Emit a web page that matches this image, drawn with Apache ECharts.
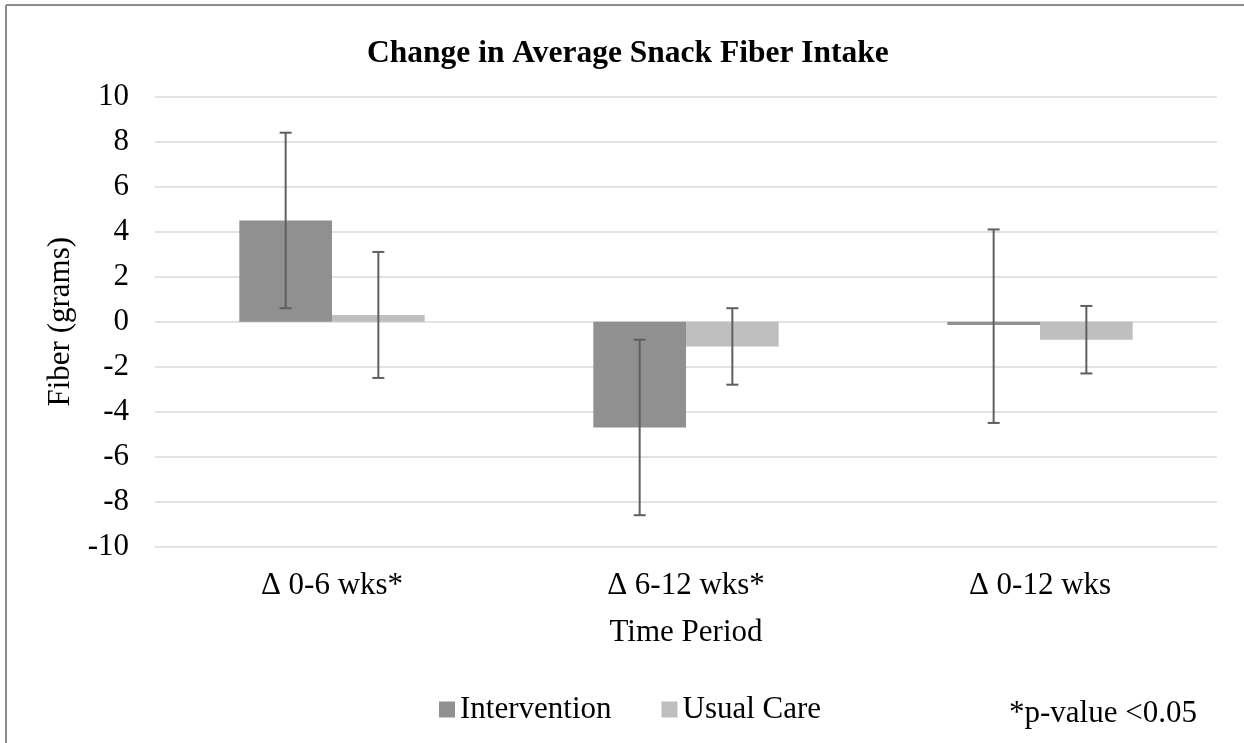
<!DOCTYPE html>
<html>
<head>
<meta charset="utf-8">
<script src="https://cdn.jsdelivr.net/npm/echarts@6/dist/echarts.min.js"></script>
<style>html,body{margin:0;padding:0;background:#fff}#c{width:1244px;height:743px}</style>
</head>
<body>
<div id="c"></div>
<script>
var categories = ['\u0394 0-6 wks*', '\u0394 6-12 wks*', '\u0394 0-12 wks'];
var interventionValues = [4.5, -4.7, -0.15];
var interventionLow = [0.6, -8.6, -4.5];
var interventionHigh = [8.4, -0.8, 4.1];
var usualCareValues = [0.3, -1.1, -0.8];
var usualCareLow = [-2.5, -2.8, -2.3];
var usualCareHigh = [3.1, 0.6, 0.7];
var seriesNames = ['Intervention', 'Usual Care'];
var yTicks = [-10, -8, -6, -4, -2, 0, 2, 4, 6, 8, 10];

var FONT = "'Liberation Serif', 'Times New Roman', serif";
var GAP = 0.4763;

function errData(low, high) {
  return categories.map(function (c, i) { return [i, low[i], high[i]]; });
}
function errRender(side) {
  return function (params, api) {
    var i = api.value(0);
    var band = api.size([1, 0])[0];
    var bw = band * (1 - GAP) / 2;
    var lo = api.coord([i, api.value(1)]);
    var hi = api.coord([i, api.value(2)]);
    var x = lo[0] + side * bw / 2;
    var cap = 6;
    var st = { stroke: '#5f5f5f', lineWidth: 2 };
    return {
      type: 'group',
      children: [
        { type: 'line', shape: { x1: x, y1: lo[1], x2: x, y2: hi[1] }, style: st },
        { type: 'line', shape: { x1: x - cap, y1: lo[1], x2: x + cap, y2: lo[1] }, style: st },
        { type: 'line', shape: { x1: x - cap, y1: hi[1], x2: x + cap, y2: hi[1] }, style: st }
      ]
    };
  };
}

var chart = echarts.init(document.getElementById('c'), null, { renderer: 'canvas' });
chart.setOption({
  animation: false,
  backgroundColor: '#fff',
  title: {
    text: 'Change in Average Snack Fiber Intake',
    left: 362, top: 33,
    textStyle: { fontFamily: FONT, fontSize: 31.5, fontWeight: 'bold', color: '#000' }
  },
  legend: {
    data: seriesNames,
    left: 434, top: 689,
    itemWidth: 16, itemHeight: 16, itemGap: 50,
    icon: 'rect',
    textStyle: { fontFamily: FONT, fontSize: 31, color: '#000' }
  },
  grid: { left: 155, right: 27, top: 96.7, bottom: 196.3, containLabel: false },
  xAxis: {
    type: 'category',
    data: categories,
    name: 'Time Period',
    nameLocation: 'middle',
    nameGap: 71,
    nameTextStyle: { fontFamily: FONT, fontSize: 31, color: '#000' },
    axisLine: { show: false, onZero: false },
    axisTick: { show: false },
    axisLabel: { fontFamily: FONT, fontSize: 31, color: '#000', margin: 24 }
  },
  yAxis: {
    type: 'value',
    min: yTicks[0], max: yTicks[yTicks.length - 1], interval: 2,
    name: 'Fiber (grams)',
    nameLocation: 'middle',
    nameGap: 78,
    nameTextStyle: { fontFamily: FONT, fontSize: 31, color: '#000' },
    axisLine: { show: false },
    axisTick: { show: false },
    axisLabel: { fontFamily: FONT, fontSize: 31, color: '#000', margin: 26 },
    splitLine: { lineStyle: { color: '#d9d9d9', width: 1.5 } }
  },
  series: [
    { name: seriesNames[0], type: 'bar', data: interventionValues, barGap: '0%', barCategoryGap: (GAP * 100) + '%',
      itemStyle: { color: '#909090' } },
    { name: seriesNames[1], type: 'bar', data: usualCareValues, barGap: '0%', barCategoryGap: (GAP * 100) + '%',
      itemStyle: { color: '#bfbfbf' } },
    { type: 'custom', renderItem: errRender(-1), data: errData(interventionLow, interventionHigh), z: 10,
      encode: { x: 0, y: [1, 2] } },
    { type: 'custom', renderItem: errRender(1), data: errData(usualCareLow, usualCareHigh), z: 10,
      encode: { x: 0, y: [1, 2] } }
  ],
  graphic: [
    { type: 'line', shape: { x1: 6, y1: 5, x2: 6, y2: 743 }, style: { stroke: '#8c8c8c', lineWidth: 2 } },
    { type: 'line', shape: { x1: 6, y1: 5, x2: 1244, y2: 5 }, style: { stroke: '#8c8c8c', lineWidth: 2 } },
    { type: 'text', left: 1009, top: 698, style: { text: '*p-value <0.05', font: '31px ' + FONT, fill: '#000' } }
  ]
});
</script>
</body>
</html>
